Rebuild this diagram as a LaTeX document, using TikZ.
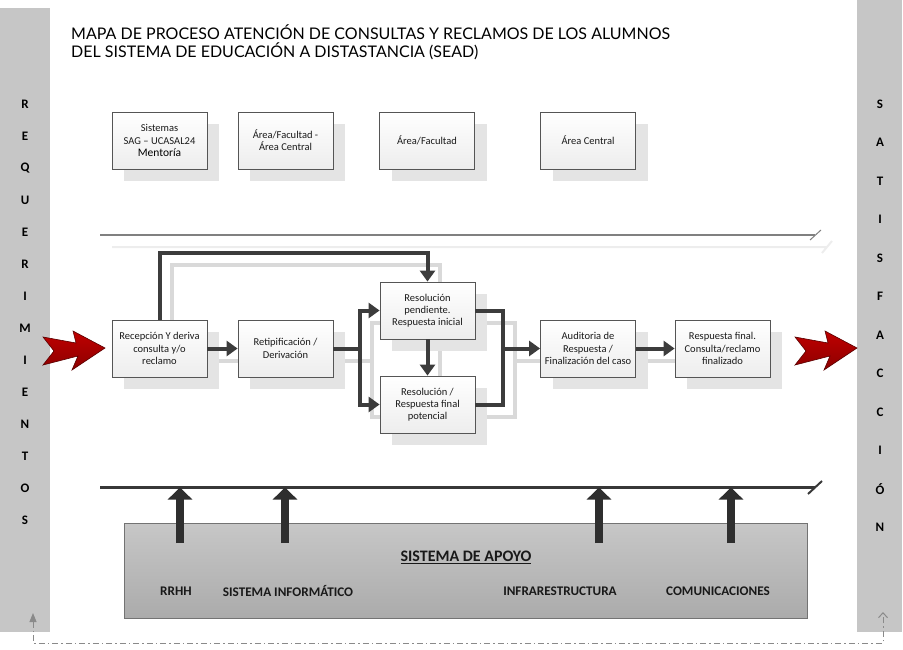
\documentclass[tikz,border=0pt]{standalone}
\usepackage{fontspec}
\setmainfont{Carlito}
\newfontfamily\titlefont{Lato}
\usetikzlibrary{arrows.meta,calc}
\definecolor{barc}{HTML}{C6C6C6}
\definecolor{boxborder}{HTML}{555555}
\definecolor{boxbot}{HTML}{EDEDED}
\definecolor{shc}{HTML}{E4E4E4}
\definecolor{ltc}{HTML}{D9D9D9}
\definecolor{dkc}{HTML}{3C3C3C}
\definecolor{textc}{HTML}{1A1A1A}
\definecolor{fbc}{HTML}{8A8A8A}
\begin{document}
\begin{tikzpicture}[x=1pt,y=-1pt,
  pbox/.style={draw=boxborder, line width=0.8pt, top color=white, bottom color=boxbot,
    minimum width=95pt, minimum height=57pt, inner sep=1pt, align=center,
    font=\fontsize{10.5}{12.3}\selectfont, text=textc},
  shbox/.style={fill=shc, minimum width=95pt, minimum height=57pt, inner sep=0pt},
  dk/.style={draw=dkc, line width=4pt},
  dka/.style={dk, -{Triangle[length=11pt,width=15pt]}},
  lt/.style={draw=ltc, line width=4pt},
  lta/.style={lt, -{Triangle[length=11pt,width=15pt]}},
  barletter/.style={font=\bfseries\fontsize{13}{14}\selectfont, text=black, inner sep=0pt},
  uparrow/.style={draw=black!82, line width=8pt, -{Triangle[length=12pt,width=24pt]}},
  suplabel/.style={font=\bfseries\fontsize{13.2}{15}\selectfont, text=black!90, inner sep=0pt},
  fb/.style={draw=fbc, line width=1pt, dash pattern=on 6pt off 3pt on 1.5pt off 3pt},
  redarrow/.style={top color=red!75!black, bottom color=red!55!black, draw=red!35!black, line width=0.6pt}
]
\useasboundingbox (0,0) rectangle (903,650);
% side bars
\fill[barc] (0,8) rectangle (50,632);
\fill[barc] (857,0) rectangle (902,632);
\foreach \c [count=\i from 0] in {R,E,Q,U,E,R,I,M,I,E,N,T,O,S}
  \node[barletter] (L\i) at (25,{104+32*\i}) {\c};
\foreach \c [count=\i from 0] in {S,A,T,I,S,F,A,C,C,I,Ó,N}
  \node[barletter] (S\i) at (880,{104+38.5*\i}) {\c};
% title
\node[font=\titlefont\fontsize{16}{18}\selectfont, text=black, anchor=base west, inner sep=0pt] (t1) at (71,40)
  {MAPA DE PROCESO ATENCIÓN DE CONSULTAS Y RECLAMOS DE LOS ALUMNOS};
\node[font=\titlefont\fontsize{16}{18}\selectfont, text=black, anchor=base west, inner sep=0pt] (t2) at (71,58)
  {DEL SISTEMA DE EDUCACIÓN A DISTASTANCIA (SEAD)};
% top separation line
\draw[draw=black!7, line width=2pt] (112,247) -- (827,247) (822,253) -- (832,241);
\draw[draw=black!50, line width=2pt] (100,235) -- (815,235);
\draw[draw=black!50, line width=1pt] (810,240) -- (821,230);
% shadows of boxes
\foreach \n/\x/\y in {a1/159.5/140.5, a2/285.5/140.5, a3/427/140.5, a4/588/140.5,
  rec/159.5/348.5, ret/285.5/348.5, rp/427.5/310.5, rf/427.5/404.5, aud/588/348.5, resp/722.5/348.5}
  \node[shbox] (\n-s) at ({\x+12},{\y+12}) {};
% shadow connectors
\coordinate (j1-s) at (372,360.5);
\coordinate (j2-s) at (515,360.5);
\draw[lta] (rec-s.north) -- ++(0,-67) -| (rp-s.north);
\draw[lta] (rec-s.east) -- (ret-s.west);
\draw[lt] (ret-s.east) -- (j1-s);
\draw[lta] (j1-s) |- (rp-s.west);
\draw[lta] (j1-s) |- (rf-s.west);
\draw[lta] (rp-s.south) -- (rf-s.north);
\draw[lt] (rp-s.east) -| (j2-s);
\draw[lt] (rf-s.east) -| (j2-s);
\draw[lta] (j2-s) -- (aud-s.west);
\draw[lta] (aud-s.east) -- (resp-s.west);
% top boxes
\node[pbox] (a1) at (159.5,140.5) {Sistemas\\SAG – UCASAL24\\{\fontsize{11.5}{12.5}\selectfont\color{black}Mentoría}};
\node[pbox] (a2) at (285.5,140.5) {Área/Facultad -\\Área Central};
\node[pbox] (a3) at (427,140.5) {Área/Facultad};
\node[pbox] (a4) at (588,140.5) {Área Central};
% process boxes
\node[pbox] (rec) at (159.5,348.5) {Recepción Y deriva\\consulta y/o\\reclamo};
\node[pbox] (ret) at (285.5,348.5) {Retipificación /\\Derivación};
\node[pbox] (rp) at (427.5,310.5) {Resolución\\pendiente.\\Respuesta inicial};
\node[pbox] (rf) at (427.5,404.5) {Resolución /\\Respuesta final\\potencial};
\node[pbox] (aud) at (588,348.5) {Auditoria de\\Respuesta /\\Finalización del caso};
\node[pbox] (resp) at (722.5,348.5) {Respuesta final.\\Consulta/reclamo\\finalizado};
% dark connectors
\coordinate (j1) at (360,348.5);
\coordinate (j2) at (503,348.5);
\draw[dka] (rec.north) -- ++(0,-67) -| (rp.north);
\draw[dka] (rec.east) -- (ret.west);
\draw[dk] (ret.east) -- (j1);
\draw[dka] (j1) |- (rp.west);
\draw[dka] (j1) |- (rf.west);
\draw[dka] (rp.south) -- (rf.north);
\draw[dk] (rp.east) -| (j2);
\draw[dk] (rf.east) -| (j2);
\draw[dka] (j2) -- (aud.west);
\draw[dka] (aud.east) -- (resp.west);
% red arrows
\draw[redarrow] (43,337) -- (76,343) -- (73,331) -- (105,348) -- (72,370) -- (78,356) -- (43,365) -- (54,351) -- cycle;
\begin{scope}[xshift=752pt]
\draw[redarrow] (43,337) -- (76,343) -- (73,331) -- (105,348) -- (72,370) -- (78,356) -- (43,365) -- (54,351) -- cycle;
\end{scope}
% support system
\node[draw=black!55, line width=0.8pt, top color=black!22, bottom color=black!33,
  minimum width=683pt, minimum height=95pt, inner sep=0pt] (apoyo) at (465.5,570.5) {};
\node[font=\bfseries\fontsize{16}{18}\selectfont, text=black!90, inner sep=0pt] (apt) at (466,557) {\underline{SISTEMA DE APOYO}};
\node[suplabel] (s1) at (176,591) {RRHH};
\node[suplabel] (s2) at (288,591) {SISTEMA INFORMÁTICO};
\node[suplabel] (s3) at (560,591) {INFRARESTRUCTURA};
\node[suplabel] (s4) at (718,591) {COMUNICACIONES};
% bottom line
\draw[draw=black!78, line width=3pt] (100,487) -- (815,487);
\draw[draw=black!78, line width=2pt] (808,494) -- (822,481);
\foreach \k/\x in {1/180, 2/285, 3/599, 4/731} {
  \coordinate (u\k a) at (\x,543);
  \coordinate (u\k b) at (\x,487.5);
  \draw[uparrow] (u\k a) -- (u\k b);
}
% feedback dashed line
\coordinate (fbA) at (33,613);
\coordinate (fbB) at (883,612);
\draw[fb, {Triangle[length=9pt,width=7pt]}-{Straight Barb[length=5pt,width=9pt]}] (fbA) |- (883,643) -- (fbB);
\end{tikzpicture}
\end{document}
